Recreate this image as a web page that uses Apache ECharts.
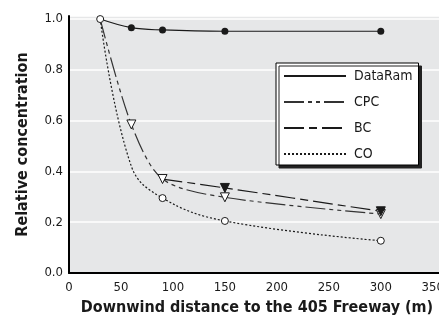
<!DOCTYPE html>
<html>
<head>
<meta charset="utf-8">
<script src="https://cdn.jsdelivr.net/npm/echarts@6/dist/echarts.min.js"></script>
<style>
  html, body { margin: 0; padding: 0; background: #fff; }
  #chart { width: 439px; height: 320px; }
</style>
</head>
<body>
<div id="chart"></div>
<script>
// distances (m) and relative concentrations
const dataRamX = [30, 60, 90, 150, 300];
const dataRamY = [1.0, 0.966, 0.957, 0.952, 0.952];

const cpcX = [30, 60, 90, 150, 300];
const cpcY = [1.0, 0.585, 0.37, 0.298, 0.232];

const bcX = [90, 150, 300];
const bcY = [0.37, 0.335, 0.243];

const coX = [30, 60, 90, 150, 300];
const coY = [1.0, 0.42, 0.295, 0.205, 0.127];

const xTicks = [0, 50, 100, 150, 200, 250, 300, 350];
const yTicks = [0.0, 0.2, 0.4, 0.6, 0.8, 1.0];

const FONT = "'DejaVu Sans Condensed', 'DejaVu Sans', sans-serif";
const INK = '#1a1a1a';

// points listed in `hidden` get no marker
const toPoints = (xs, ys, symbol, hidden) =>
  xs.map((x, i) => (hidden.includes(i)
    ? { value: [x, ys[i]], symbol: 'none' }
    : { value: [x, ys[i]], symbol }));

const tickLabel = (ticks, digits) => v => {
  const t = ticks.find(k => Math.abs(k - v) < 1e-6);
  return t === undefined ? '' : t.toFixed(digits);
};

const chart = echarts.init(document.getElementById('chart'));

const option = {
  animation: false,
  grid: {
    left: 69,
    right: 0,
    top: 16,
    bottom: 47,
    outerBoundsMode: 'none',
    containLabel: false,
    show: true,
    backgroundColor: '#e6e7e8',
    borderWidth: 0
  },
  legend: {
    left: 276,
    top: 63,
    orient: 'vertical',
    itemWidth: 62,
    itemHeight: 14,
    itemGap: 12,
    padding: [6, 6, 4, 7],
    backgroundColor: '#fff',
    borderColor: '#000',
    borderWidth: 1,
    borderRadius: 0,
    shadowColor: '#222',
    shadowBlur: 0,
    shadowOffsetX: 3,
    shadowOffsetY: 3,
    itemStyle: { opacity: 0 },
    textStyle: { fontFamily: FONT, fontSize: 14, color: INK, padding: [0, 0, 0, 3] },
    data: ['DataRam', 'CPC', 'BC', 'CO']
  },
  xAxis: {
    type: 'value',
    min: xTicks[0],
    max: 356,
    interval: 50,
    name: 'Downwind distance to the 405 Freeway (m)',
    nameLocation: 'middle',
    nameGap: 27,
    nameTextStyle: { fontFamily: FONT, fontSize: 16, fontWeight: 'bold', color: INK, padding: [0, 0, 0, 6] },
    axisLine: { lineStyle: { color: '#000', width: 2 } },
    axisTick: { show: false },
    splitLine: { show: false },
    axisLabel: { fontFamily: FONT, fontSize: 13, color: INK, margin: 8, formatter: tickLabel(xTicks, 0) }
  },
  yAxis: {
    type: 'value',
    min: yTicks[0],
    max: 1.012,
    interval: 0.2,
    name: 'Relative concentration',
    nameLocation: 'middle',
    nameGap: 38,
    nameTextStyle: { fontFamily: FONT, fontSize: 16, fontWeight: 'bold', color: INK },
    axisLine: { show: true, lineStyle: { color: '#000', width: 2 } },
    axisTick: { show: false },
    splitLine: { lineStyle: { color: '#fff', width: 1.5 } },
    axisLabel: { fontFamily: FONT, fontSize: 13, color: INK, margin: 6, formatter: tickLabel(yTicks, 1) }
  },
  series: [
    {
      name: 'DataRam',
      type: 'line',
      smooth: 0.4,
      symbol: 'none',
      symbolSize: 7,
      lineStyle: { color: INK, width: 1.2, type: 'solid' },
      itemStyle: { color: INK },
      data: toPoints(dataRamX, dataRamY, 'circle', [0])
    },
    {
      name: 'CPC',
      type: 'line',
      smooth: 0.3,
      symbol: 'none',
      symbolSize: 9,
      symbolRotate: 180,
      lineStyle: { color: '#333', width: 1.2, type: [20, 4, 4, 4, 4, 4] },
      itemStyle: { color: '#fff', borderColor: INK, borderWidth: 1 },
      data: toPoints(cpcX, cpcY, 'triangle', [0])
    },
    {
      name: 'BC',
      type: 'line',
      smooth: 0.3,
      symbol: 'none',
      symbolSize: 9,
      symbolRotate: 180,
      lineStyle: { color: INK, width: 1.2, type: [20, 5, 8, 5] },
      itemStyle: { color: INK, borderColor: INK, borderWidth: 1 },
      data: toPoints(bcX, bcY, 'triangle', [0])
    },
    {
      name: 'CO',
      type: 'line',
      smooth: 0.4,
      symbol: 'none',
      symbolSize: 7,
      lineStyle: { color: INK, width: 1.2, type: [2, 2] },
      itemStyle: { color: '#fff', borderColor: INK, borderWidth: 1 },
      data: toPoints(coX, coY, 'circle', [1])
    }
  ]
};

chart.setOption(option);
</script>
</body>
</html>
